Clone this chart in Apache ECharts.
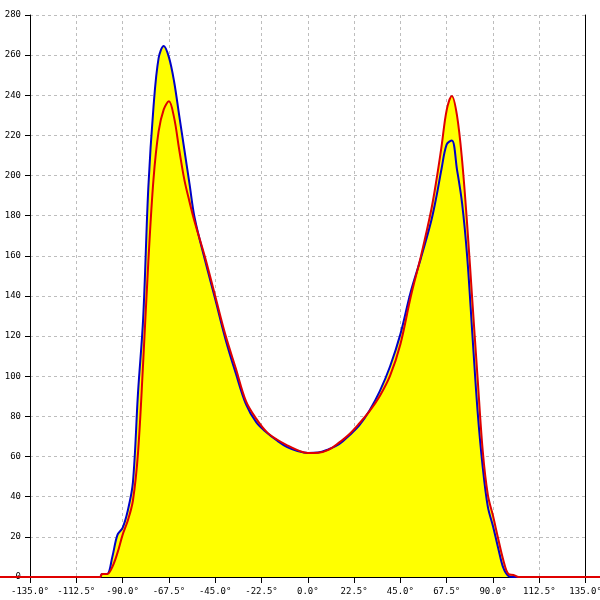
<!DOCTYPE html>
<html>
<head>
<meta charset="utf-8">
<script src="https://cdn.jsdelivr.net/npm/echarts@6/dist/echarts.min.js"></script>
<style>html,body{margin:0;padding:0;background:#fff}#c{width:600px;height:600px}</style>
</head>
<body>
<div id="c"></div>
<script>
const degrees = [-150, -101, -100, -97.5, -95, -92.5, -90, -87.5, -85, -82.5, -80, -77.5, -75, -72.5, -70, -67.5, -65, -62.5, -60, -57.5, -55, -50, -45, -40, -35, -30, -25, -20, -15, -10, -5, 0, 5, 10, 15, 20, 25, 30, 35, 40, 45, 50, 55, 60, 62.5, 65, 67.5, 70, 72.5, 75, 77.5, 80, 82.5, 85, 87.5, 90, 92.5, 95, 97.5, 100, 102.5, 150];
const blueValues = [0, 0, 1.5, 1.5, 10, 21, 24.5, 33, 47, 92, 129, 194, 234, 258.5, 264.6, 259, 247, 230, 213, 196, 179, 158, 138.5, 118.5, 101.5, 86, 77, 72, 68, 64.7, 62.8, 61.8, 62, 63.6, 66, 70.4, 75.5, 83, 92.6, 105, 121, 142, 159, 177.5, 189.5, 203.4, 215.5, 217.5, 203, 186, 159, 120.5, 82.8, 54.8, 34.9, 25.3, 14.5, 4.6, 0.5, 0, 0, 0];
const redValues = [0, 0, 1.5, 1.5, 5, 12, 21, 28, 38, 62, 107, 157, 198, 222, 233, 237, 229, 213, 198, 187, 177, 159.5, 140, 120.5, 104, 87.5, 78.8, 72.3, 68.5, 65.6, 63.2, 61.8, 61.9, 63.3, 66.8, 71, 76.5, 82.6, 90.2, 100.3, 116, 139.5, 160, 183, 197.7, 214.6, 232.7, 239.7, 230, 207.4, 174.8, 137, 99.4, 63, 40.9, 30.5, 19.2, 8.5, 1.5, 1, 0, 0];
const yTicks = {min: 0, max: 280, step: 20};
const xTicks = {min: -135, max: 135, step: 22.5};

const W = 600, gl = 30, gr = 14.4, gt = 15, gb = 23;
const pxPerDeg = (W - gl - gr) / (xTicks.max - xTicks.min);
const pairs = vals => degrees.map((d, i) => [d, vals[i]]);
const font = 'DejaVu Sans Mono';
const chart = echarts.init(document.getElementById('c'));
const split = {show: true, lineStyle: {color: '#bdbdbd', type: [3, 3], width: 1}};
const black = {show: true, onZero: false, lineStyle: {color: '#000', width: 1}};
const smooth = 0.35;
chart.setOption({
  animation: false,
  backgroundColor: '#fff',
  grid: [
    {left: gl, right: gr, top: gt, bottom: gb, outerBoundsMode: 'none', containLabel: false},
    {left: 0, right: 0, top: gt, bottom: gb, outerBoundsMode: 'none', containLabel: false}
  ],
  xAxis: [{
    type: 'value', gridIndex: 0, min: xTicks.min, max: xTicks.max, interval: xTicks.step,
    axisLine: black,
    axisTick: {show: true, length: 6, lineStyle: {color: '#000'}},
    axisLabel: {show: true, showMinLabel: true, showMaxLabel: true, hideOverlap: false, margin: 10, color: '#000', fontFamily: font, fontSize: 9,
      formatter: v => v.toFixed(1) + '°'},
    splitLine: split
  }, {
    type: 'value', gridIndex: 1,
    min: xTicks.min - gl / pxPerDeg, max: xTicks.max + gr / pxPerDeg,
    show: false
  }],
  yAxis: [{
    type: 'value', gridIndex: 0, min: yTicks.min, max: yTicks.max, interval: yTicks.step,
    axisLine: black,
    axisTick: {show: true, length: 5, lineStyle: {color: '#000'}},
    axisLabel: {show: true, showMinLabel: true, showMaxLabel: true, margin: 9, color: '#000', fontFamily: font, fontSize: 9},
    splitLine: split
  }, {
    type: 'value', gridIndex: 0, position: 'right', min: yTicks.min, max: yTicks.max, interval: yTicks.step,
    axisLine: black, axisTick: {show: false}, axisLabel: {show: false}, splitLine: {show: false}
  }, {
    type: 'value', gridIndex: 1, min: yTicks.min, max: yTicks.max, show: false
  }],
  series: [
    {type: 'line', data: pairs(blueValues), smooth, symbol: 'none', z: 1,
      lineStyle: {width: 0, opacity: 0}, areaStyle: {color: '#ffff00', opacity: 1}, silent: true},
    {type: 'line', data: pairs(redValues), smooth, symbol: 'none', z: 1,
      lineStyle: {width: 0, opacity: 0}, areaStyle: {color: '#ffff00', opacity: 1}, silent: true},
    {type: 'line', data: pairs(blueValues), smooth, symbol: 'none', z: 3,
      lineStyle: {color: '#0000c8', width: 2}},
    {type: 'line', xAxisIndex: 1, yAxisIndex: 2, data: pairs(redValues), smooth, symbol: 'none', z: 4, clip: false,
      lineStyle: {color: '#e00000', width: 2}}
  ]
});
</script>
</body>
</html>
